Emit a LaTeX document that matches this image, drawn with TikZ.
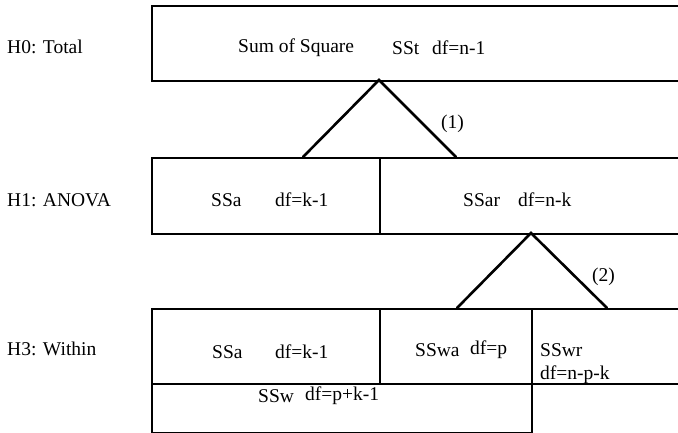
\documentclass[tikz,border=0pt]{standalone}
\usepackage{fontspec}
\setmainfont{Liberation Serif}
\begin{document}
\begin{tikzpicture}[x=1pt,y=-1pt,
  box/.style={draw, line width=1.6pt, rectangle, inner sep=0pt, anchor=north west},
  lbl/.style={inner sep=0pt, anchor=west, font=\fontsize{19.5}{22}\selectfont},
  tri/.style={line width=2.6pt, line cap=round}]
\useasboundingbox (0,0) rectangle (678,433);
% boxes
\node[box, minimum width=540pt, minimum height=75pt] (tot) at (151,5) {};
\node[box, minimum width=228pt, minimum height=76pt] (ssa1) at (151,157) {};
\node[box, minimum width=320pt, minimum height=76pt] (ssar) at (379,157) {};
\node[box, minimum width=228pt, minimum height=75pt] (ssa2) at (151,308) {};
\node[box, minimum width=152pt, minimum height=75pt] (sswa) at (379,308) {};
\node[box, minimum width=170pt, minimum height=75pt] (sswr) at (531,308) {};
\node[box, minimum width=380pt, minimum height=49pt] (ssw) at (151,383) {};
% row labels
\node[lbl] (h0) at (7,47) {H0: Total};
\node[lbl] (h1) at (7,200) {H1: ANOVA};
\node[lbl] (h3) at (7,349) {H3: Within};
% texts
\node[lbl] (t1) at (238,48) {Sum of Square};
\node[lbl] (t2) at (392,48) {SSt};
\node[lbl] (t3) at (432,48) {df=n-1};
\node[lbl] (m1) at (211,200) {SSa};
\node[lbl] (m2) at (275,200) {df=k-1};
\node[lbl] (m3) at (463,200) {SSar};
\node[lbl] (m4) at (518,200) {df=n-k};
\node[lbl] (b1) at (212,352) {SSa};
\node[lbl] (b2) at (275,352) {df=k-1};
\node[lbl] (b3) at (415,350) {SSwa};
\node[lbl] (b4) at (470,350) {df=p};
\node[lbl] (b5) at (540,350) {SSwr};
\node[lbl] (b6) at (540,375) {df=n-p-k};
\node[lbl] (b7) at (258,396) {SSw};
\node[lbl] (b8) at (305,396) {df=p+k-1};
% triangles
\coordinate (ap1) at (379,80);
\coordinate (f1a) at (303,157);
\coordinate (f1b) at (456,157);
\coordinate (ap2) at (531,233);
\coordinate (f2a) at (457,308);
\coordinate (f2b) at (607,308);
\draw[tri] (f1a) -- (ap1) -- (f1b);
\draw[tri] (f2a) -- (ap2) -- (f2b);
\node[lbl] (n1) at (441,124) {(1)};
\node[lbl] (n2) at (592,277) {(2)};
\end{tikzpicture}
\end{document}
